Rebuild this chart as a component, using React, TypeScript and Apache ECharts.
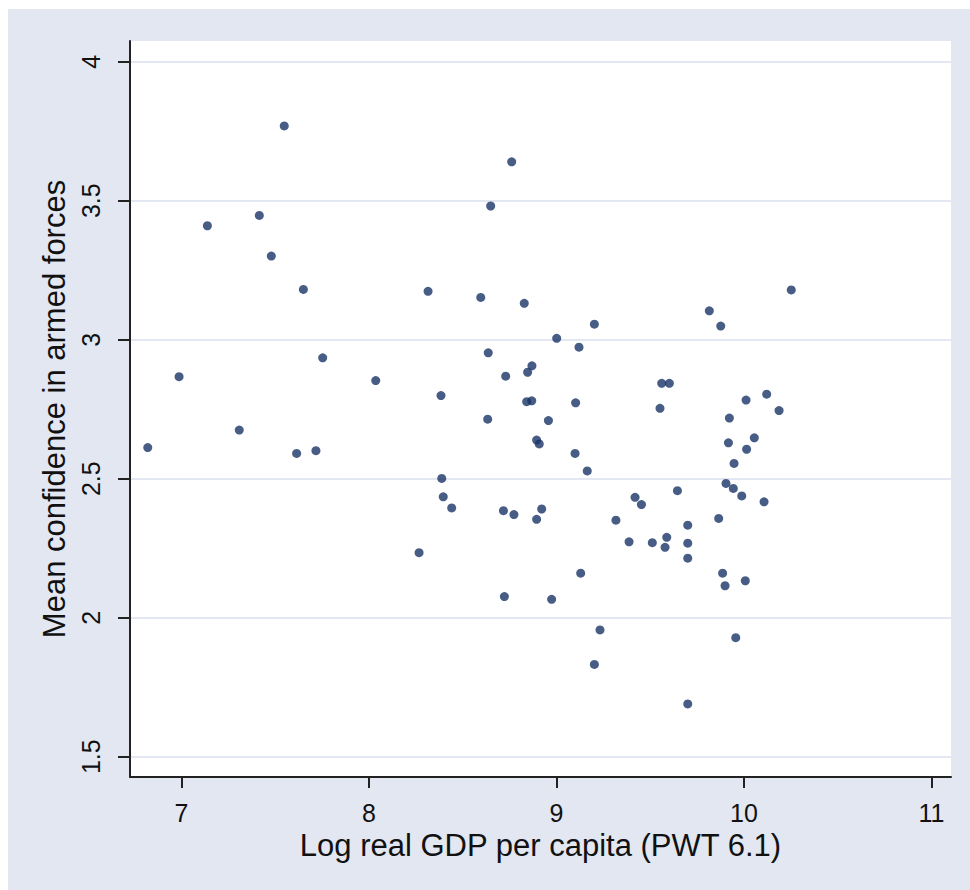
import React, { useEffect, useRef } from "react";
import * as echarts from "echarts";

const gdp = [
  7.548, 7.138, 7.415, 7.479, 7.65, 8.315, 7.753, 6.987, 8.036, 8.384,
  7.308, 6.82, 7.614, 7.717, 8.388, 8.761, 8.649, 8.596, 8.828, 9.202,
  9.001, 9.12, 8.636, 8.869, 8.846, 8.729, 9.561, 9.602, 8.841, 8.868,
  9.102, 9.552, 8.633, 8.957, 8.894, 8.908, 9.099, 9.164, 8.396, 8.441,
  8.717, 8.773, 8.921, 8.894, 9.645, 9.419, 9.453, 9.317, 9.387, 9.511,
  9.588, 9.579, 8.267, 9.129, 8.722, 8.974, 9.232, 9.202, 10.252, 9.815,
  9.876, 10.121, 10.011, 10.187, 9.922, 10.055, 9.917, 10.014, 9.947, 9.904,
  9.943, 9.988, 10.107, 9.865, 9.7, 9.7, 9.7, 9.886, 9.899, 10.007,
  9.956, 9.7,
];
const confidence = [
  3.769, 3.41, 3.447, 3.301, 3.181, 3.174, 2.935, 2.867, 2.853, 2.799,
  2.675, 2.612, 2.591, 2.601, 2.501, 3.64, 3.481, 3.152, 3.131, 3.056,
  3.005, 2.973, 2.953, 2.906, 2.883, 2.869, 2.843, 2.843, 2.777, 2.78,
  2.773, 2.753, 2.714, 2.709, 2.639, 2.625, 2.591, 2.528, 2.435, 2.395,
  2.385, 2.371, 2.391, 2.354, 2.457, 2.433, 2.407, 2.351, 2.273, 2.27,
  2.289, 2.253, 2.234, 2.16, 2.076, 2.066, 1.956, 1.832, 3.179, 3.104,
  3.049, 2.804, 2.783, 2.745, 2.718, 2.647, 2.629, 2.606, 2.555, 2.483,
  2.465, 2.438, 2.417, 2.357, 2.333, 2.268, 2.214, 2.16, 2.115, 2.133,
  1.928, 1.69,
];
const xTicks = [7, 8, 9, 10, 11];
const yTicks = [1.5, 2, 2.5, 3, 3.5, 4];
const xTitle = "Log real GDP per capita (PWT 6.1)";
const yTitle = "Mean confidence in armed forces";

const FONT = "'Liberation Sans', Arial, Helvetica, sans-serif";

export default function App() {
  const ref = useRef<HTMLDivElement>(null);
  useEffect(() => {
    document.body.style.overflow = "hidden";
    if (!ref.current) return;
    const chart = echarts.init(ref.current, null, { renderer: "svg" });
    const data = gdp.map((g, i) => [g, confidence[i]]);
    chart.setOption({
      animation: false,
      backgroundColor: "#e2e7f1",
      grid: {
        left: 122,
        top: 32,
        right: 19,
        bottom: 113,
        show: true,
        backgroundColor: "#ffffff",
        borderWidth: 0,
      },
      xAxis: {
        type: "value",
        min: 6.7253,
        max: 11.104,
        name: xTitle,
        nameLocation: "middle",
        nameGap: 48,
        nameTextStyle: { fontFamily: FONT, fontSize: 31, color: "#111" },
        axisLine: { show: true, onZero: false, lineStyle: { color: "#222", width: 2 } },
        axisTick: {
          show: true,
          customValues: xTicks,
          length: 11,
          lineStyle: { color: "#222", width: 2 },
        },
        axisLabel: {
          customValues: xTicks,
          margin: 23,
          fontFamily: FONT,
          fontSize: 25,
          color: "#111",
        },
        splitLine: { show: false },
      },
      yAxis: {
        type: "value",
        min: 1.427,
        max: 4.0745,
        name: yTitle,
        nameLocation: "middle",
        nameRotate: 90,
        nameGap: 56,
        nameTextStyle: { fontFamily: FONT, fontSize: 31, color: "#111" },
        axisLine: { show: true, onZero: false, lineStyle: { color: "#222", width: 2 } },
        axisTick: {
          show: true,
          customValues: yTicks,
          length: 12,
          lineStyle: { color: "#222", width: 2 },
        },
        axisLabel: {
          customValues: yTicks,
          rotate: 90,
          margin: 27,
          fontFamily: FONT,
          fontSize: 25,
          color: "#111",
        },
        splitLine: { show: true, lineStyle: { color: "#e2e7f1", width: 2 } },
      },
      series: [
        {
          type: "scatter",
          data,
          symbol: "circle",
          symbolSize: 9,
          itemStyle: { color: "#1a3466" },
        },
      ],
    });
    return () => chart.dispose();
  }, []);
  return (
    <div
      ref={ref}
      style={{ position: "absolute", left: 8, top: 9, width: 962, height: 881 }}
    />
  );
}
